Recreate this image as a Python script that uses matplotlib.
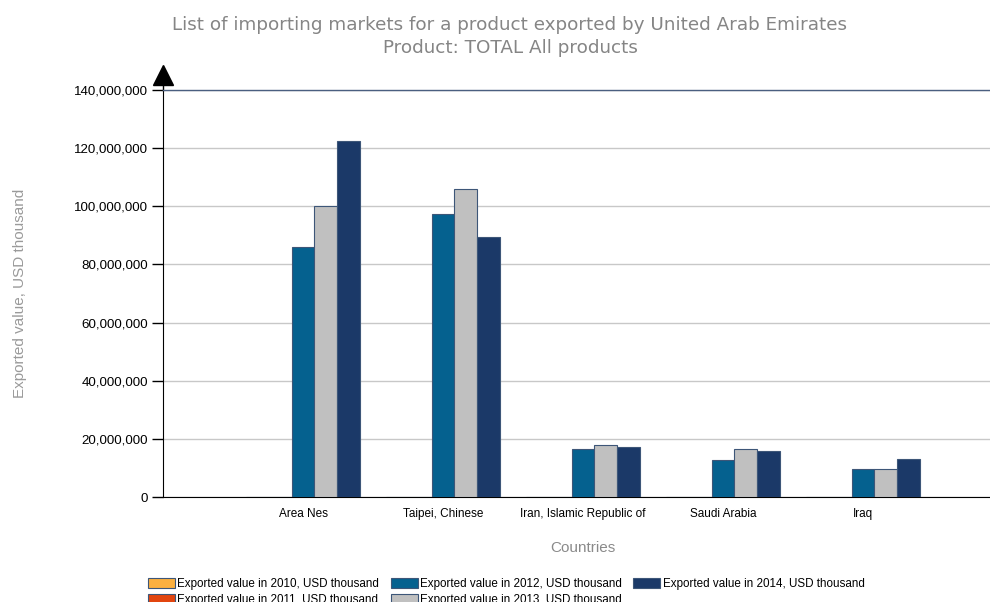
import numpy as np
import matplotlib
matplotlib.use("Agg")
import matplotlib.pyplot as plt
from matplotlib.ticker import FuncFormatter

countries = ["Area Nes", "Taipei, Chinese", "Iran, Islamic Republic of", "Saudi Arabia", "Iraq"]
years = ["2010", "2011", "2012", "2013", "2014"]
v2010 = [0, 0, 0, 0, 0]
v2011 = [0, 0, 0, 0, 0]
v2012 = [85_900_000, 97_300_000, 16_400_000, 12_800_000, 9_500_000]
v2013 = [100_100_000, 105_900_000, 18_000_000, 16_400_000, 9_800_000]
v2014 = [122_600_000, 89_500_000, 17_300_000, 15_700_000, 13_200_000]
series = [v2010, v2011, v2012, v2013, v2014]
colors = ["#FBB040", "#E2450F", "#05618F", "#C0C0C0", "#1B3968"]
yticks = np.arange(0, 140_000_001, 20_000_000)

plt.rcParams["font.family"] = ["Liberation Sans", "DejaVu Sans"]

fig = plt.figure(figsize=(9.9, 6.02), dpi=100)
ax = fig.add_axes([163 / 990, 1 - 497 / 602, 827 / 990, 407 / 602])

x = np.arange(len(countries))
w = 0.162
for i, (vals, col, yr) in enumerate(zip(series, colors, years)):
    off = (i - 2) * w
    ax.bar(x + off, vals, width=w, color=col, edgecolor="#3d5678", linewidth=0.8,
           label=f"Exported value in {yr}, USD thousand", zorder=3)

ax.set_xlim(-1.0, 4.907)
ax.set_ylim(0, 140_000_000)
ax.set_yticks(yticks)
ax.yaxis.set_major_formatter(FuncFormatter(lambda v, p: f"{int(v):,}"))
ax.set_xticks(x)
ax.set_xticklabels(countries, fontsize=8.5)
ax.tick_params(axis="x", length=0, pad=8)
ax.tick_params(axis="y", length=8, width=1, labelsize=9.6, pad=3, color="black")

ax.grid(axis="y", color="#c8c8c8", linewidth=1, zorder=0)
ax.spines["right"].set_visible(False)
ax.spines["top"].set_color("#4a5f80")
ax.spines["top"].set_linewidth(1)
ax.spines["left"].set_color("black")
ax.spines["bottom"].set_color("black")

# arrow on top of y axis
ax.plot([0, 0], [1.0, 1.02], color="black", lw=1, transform=ax.transAxes, clip_on=False)
ax.plot(0, 1.037, marker="^", markersize=15, color="black", transform=ax.transAxes, clip_on=False)

fig.text(510 / 990, 1 - 25 / 602, "List of importing markets for a product exported by United Arab Emirates",
         ha="center", va="center", fontsize=13.2, color="#858585", family="DejaVu Sans")
fig.text(510 / 990, 1 - 48 / 602, "Product: TOTAL All products",
         ha="center", va="center", fontsize=13.2, color="#858585", family="DejaVu Sans")

fig.text(20 / 990, 1 - 293 / 602, "Exported value, USD thousand", rotation=90,
         ha="center", va="center", fontsize=11, color="#9a9a9a")
fig.text(583 / 990, 1 - 548 / 602, "Countries", ha="center", va="center",
         fontsize=11, color="#8a8a8a")

fig.legend(loc="upper left", bbox_to_anchor=(148 / 990, 1 - 578 / 602), ncol=3,
           frameon=False, fontsize=8.4, handlelength=2.3, handleheight=0.9,
           handletextpad=0.2, columnspacing=1.0, labelspacing=0.3, borderpad=0,
           borderaxespad=0)

fig.savefig("out.png", dpi=100)
